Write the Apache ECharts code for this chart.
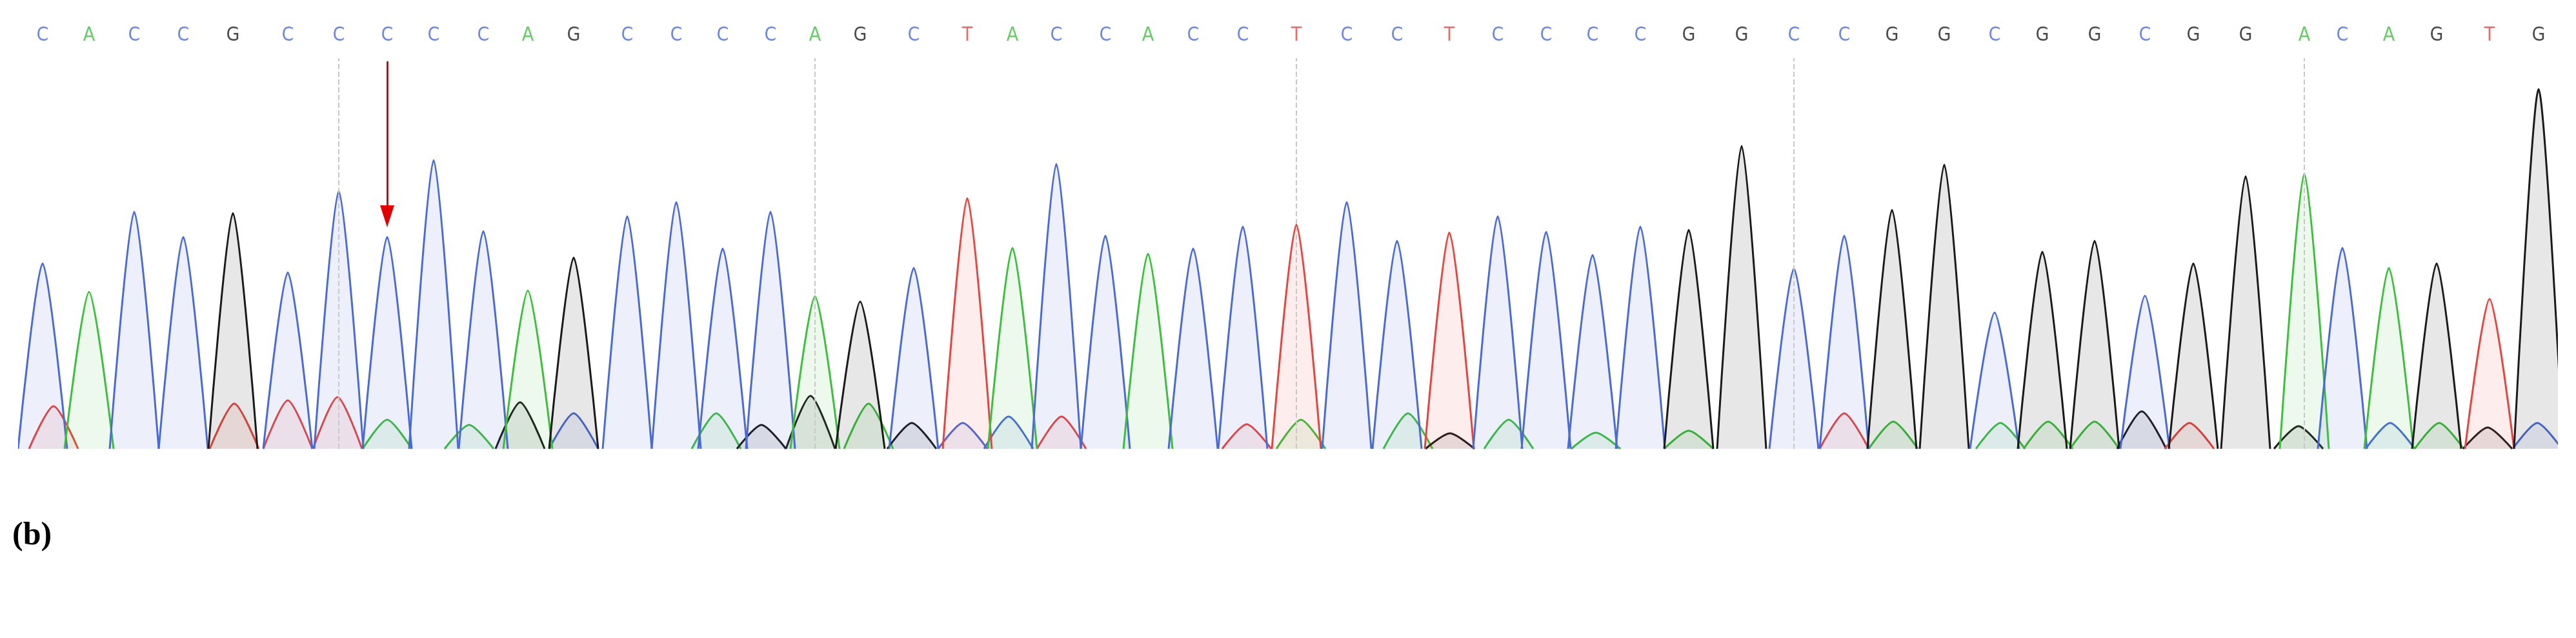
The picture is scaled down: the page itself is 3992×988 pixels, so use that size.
<!DOCTYPE html>
<html><head><meta charset="utf-8">
<script src="https://cdn.jsdelivr.net/npm/echarts@6/dist/echarts.min.js"></script>
<style>html,body{margin:0;padding:0;background:#fff}#c{width:3992px;height:988px}</style>
</head><body><div id="c"></div>
<script>
const bases = "CACCGCCCCCAGCCCCAGCTACCACCTCCTCCCCGGCCGGCGGCGGACAGTG".split("");
const positions = [66,138,208,284,361,446,525,600,672,749,818,889,972,1048,1120,1194,1263,1333,1416,1499,1569,1637,1713,1779,1849,1926,
  2009,2087,2165,2246,2321,2396,2468,2542,2617,2699,2780,2858,2932,3013,3091,3165,3246,3324,3399,3480,3571,3630,3702,3776,3858,3934];
const heights = [287,243,367,328,365,273,399,328,447,337,245,296,360,382,310,367,236,228,280,388,311,441,330,302,310,344,
  347,382,322,335,360,336,300,344,339,469,279,330,370,440,211,305,322,237,287,422,426,311,280,287,232,557];
// minor (secondary) peaks: base, position, height
const minorBases = ["T","T","T","T","A","A","G","C","A","G","G","A","G","C","C","T","T",
  "A","A","G","A","A","A","T","A","A","A","A","G","T","G","C","A","G","C"];
const minorPos = [83,363,446,523,600,727,806,889,1110,1180,1256,1346,1413,1492,1563,1645,1932,
  2016,2182,2247,2338,2473,2617,2858,2934,3100,3174,3246,3319,3393,3562,3704,3780,3855,3932];
const minorHeights = [66,70,75,80,45,37,72,55,55,37,82,70,40,40,50,50,38,
  45,55,24,45,25,28,55,42,40,42,42,58,40,35,40,40,33,40];
const markerPositions = [525,1263,2009,2780,3571];
const arrowPos = 600;

const lineCol = {C:"#4a6ad8",A:"#3cbf3c",G:"#1a1a1a",T:"#e8443f"};
const fillCol = {C:"rgba(74,106,216,0.14)",A:"rgba(60,191,60,0.14)",G:"rgba(40,40,40,0.16)",T:"rgba(232,68,63,0.14)"};
const W = 38;
const series = [];
function peak(b,p,h,z,lw){
  series.push({type:"line",smooth:0.25,symbol:"none",silent:true,z:z,
    lineStyle:{color:lineCol[b],width:lw},areaStyle:{color:fillCol[b]},
    data:[[p-W,0],[p,h],[p+W,0]]});
}
minorBases.forEach((b,i)=>peak(b,minorPos[i],minorHeights[i],2,3));
bases.forEach((b,i)=>peak(b,positions[i],heights[i],3,3));
series.push({type:"scatter",symbolSize:0,silent:true,z:5,
  data:bases.map((b,i)=>({value:[positions[i],640],label:{color:lineCol[b]}})),
  label:{show:true,position:"inside",fontSize:30,fontFamily:"DejaVu Sans Condensed",formatter:(p)=>bases[p.dataIndex]},
  markLine:{silent:true,symbol:"none",label:{show:false},lineStyle:{color:"#c8c8c8",type:"dashed",width:2},
    data:markerPositions.map(x=>[{coord:[x,0]},{coord:[x,605]}])}
});
series.push({type:"line",data:[],symbol:"none",
  markLine:{silent:true,symbol:["none","triangle"],symbolSize:[22,34],label:{show:false},
    lineStyle:{color:"#e00000",type:"solid",width:3},
    data:[[{coord:[arrowPos,600]},{coord:[arrowPos,360]}]]}});
const chart = echarts.init(document.getElementById("c"));
chart.setOption({
  animation:false,
  title:{text:"(b)",left:14,top:800,textStyle:{fontFamily:"Liberation Serif",fontWeight:"bold",fontSize:50,color:"#000"}},
  grid:{left:30,right:30,top:55,bottom:293},
  xAxis:{type:"value",min:30,max:3962,show:false},
  yAxis:{type:"value",min:0,max:640,show:false},
  series:series
});
</script></body></html>
